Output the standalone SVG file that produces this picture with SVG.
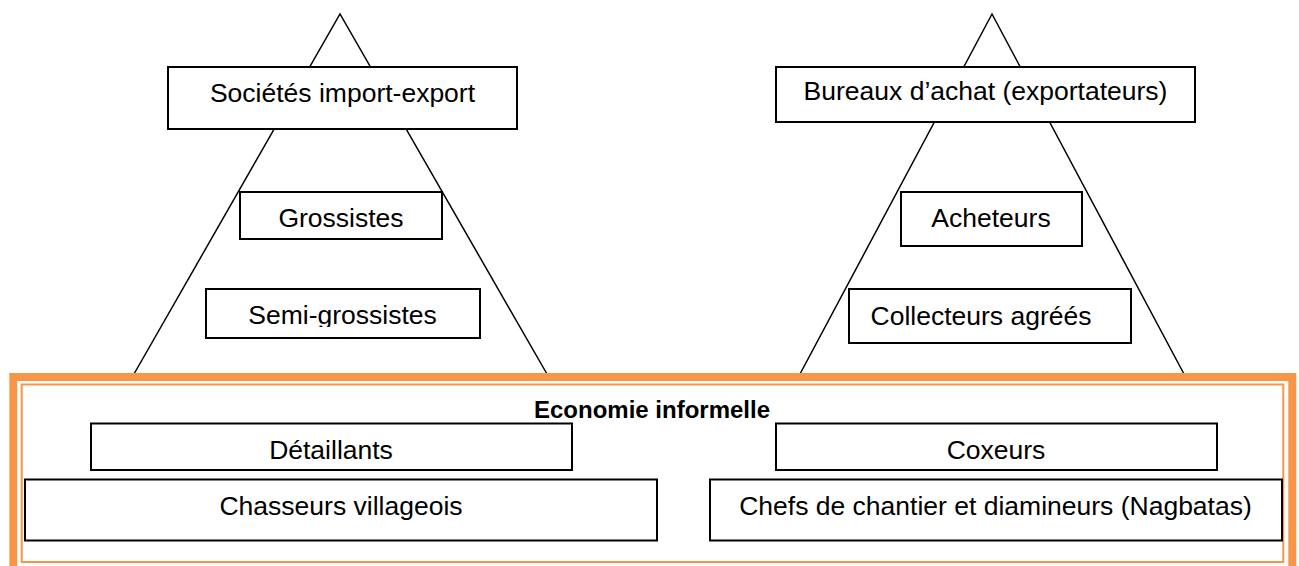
<svg xmlns="http://www.w3.org/2000/svg" width="1299" height="566" viewBox="0 0 1299 566">
<style>
.box{fill:#fff;stroke:#000;stroke-width:2}
.tri{fill:none;stroke:#000;stroke-width:1.5}
.t{font-family:"Liberation Sans",Arial,sans-serif;font-size:26.5px;fill:#000;text-anchor:middle}
.b{font-family:"Liberation Sans",Arial,sans-serif;font-size:24px;font-weight:bold;fill:#000;text-anchor:middle}
.or{fill:none;stroke:#F79646}
</style>
<defs>
<clipPath id="semiClip"><rect x="205" y="288" width="276" height="39"/></clipPath>
</defs>
<rect width="1299" height="566" fill="#fff"/>
<g id="connectors">
<polyline class="tri" points="134,374 340,14 547,374"/>
<polyline class="tri" points="800,374 992,14 1184,374"/>
</g>
<g id="societes"><rect class="box" x="168" y="67" width="349" height="62"/><text class="t" x="342.5" y="102">Sociétés import-export</text></g>
<g id="grossistes"><rect class="box" x="240" y="192" width="202" height="47"/><text class="t" x="341" y="227">Grossistes</text></g>
<g id="semi-grossistes"><rect class="box" x="206" y="289" width="274" height="49"/><text class="t" x="342.5" y="324" clip-path="url(#semiClip)">Semi-grossistes</text></g>
<g id="bureaux"><rect class="box" x="776" y="67" width="419" height="55"/><text class="t" x="985.5" y="100">Bureaux d’achat (exportateurs)</text></g>
<g id="acheteurs"><rect class="box" x="901" y="192" width="181" height="54"/><text class="t" x="991" y="227">Acheteurs</text></g>
<g id="collecteurs"><rect class="box" x="849" y="289" width="282" height="54"/><text class="t" x="981" y="325">Collecteurs agréés</text></g>
<g id="economie-informelle">
<rect class="or" x="13.3" y="377" width="1279" height="200" stroke-width="8"/>
<rect class="or" x="21.7" y="384.5" width="1261.6" height="177.5" stroke-width="2"/>
<text class="b" x="652" y="418">Economie informelle</text>
</g>
<g id="detaillants"><rect class="box" x="91" y="423.5" width="481" height="46.5"/><text class="t" x="331" y="459">Détaillants</text></g>
<g id="chasseurs"><rect class="box" x="25" y="479.5" width="632" height="61"/><text class="t" x="341" y="515">Chasseurs villageois</text></g>
<g id="coxeurs"><rect class="box" x="776" y="423.5" width="441" height="46.5"/><text class="t" x="996" y="459">Coxeurs</text></g>
<g id="chefs"><rect class="box" x="710" y="479.5" width="572" height="61"/><text class="t" x="995.5" y="515">Chefs de chantier et diamineurs (Nagbatas)</text></g>
</svg>
